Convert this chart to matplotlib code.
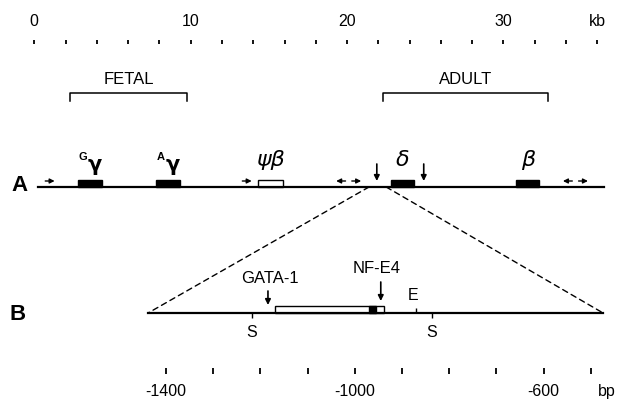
#Mapa del locus de beta-globina
import numpy as np
import matplotlib
matplotlib.use('Agg')
import matplotlib.pyplot as plt
from matplotlib.patches import Rectangle, ConnectionPatch

plt.rcParams['font.family'] = ['Liberation Sans', 'DejaVu Sans']

#Datos (kb) para la parte A
kb_ticks = np.arange(0, 37, 2)
kb_label_pos = [0, 10, 20, 30, 36]
kb_labels = ['0', '10', '20', '30', 'kb']

locus_start = 0.24
locus_end = 36.4
gene_start = [2.78, 7.78, 14.3, 22.8, 30.8]
gene_end = [4.31, 9.32, 15.9, 24.3, 32.3]
gene_filled = [True, True, False, True, True]
gene_names = ['Gγ', 'Aγ', 'ψβ', 'δ', 'β']

hs_pos = [1.0, 13.6, 19.6, 20.6, 34.1, 35.1]
hs_dir = [1, 1, -1, 1, -1, 1]
down_arrows = [21.9, 24.9]

brackets = ['FETAL', 'ADULT']
bracket_start = [2.29, 22.29]
bracket_end = [9.76, 32.84]

zoom_from = [21.4, 22.5]

#Datos (bp) para la parte B
bp_ticks = np.arange(-1400, -499, 100)
bp_label_pos = [-1400, -1000, -600, -466]
bp_labels = ['-1400', '-1000', '-600', 'bp']

region_start = -1438
region_end = -474
s_sites = [-1218, -837]
e_site = -870
box_start, box_end = -1169, -938
core_start, core_end = -970, -955
gata_pos = -1184
nfe4_pos = -945

fig = plt.figure(figsize=(6.19, 4.02), dpi=100)
axA = fig.add_axes([0, 0, 1, 1])
axA.set_xlim(-2.193, 37.385)
axA.set_ylim(402, 0)
axA.axis('off')
axB = fig.add_axes([0, 0, 1, 1])
axB.set_xlim(-1751.7, -440.3)
axB.set_ylim(402, 0)
axB.axis('off')
axB.patch.set_alpha(0)

#Escala superior
axA.vlines(kb_ticks, 41, 45, color='k', lw=1.3)
for p, lab in zip(kb_label_pos, kb_labels):
    axA.text(p, 21, lab, ha='center', va='center', fontsize=11.5)

#Llaves FETAL / ADULT
for name, s, e in zip(brackets, bracket_start, bracket_end):
    axA.plot([s, s, e, e], [102, 94, 94, 102], color='k', lw=1.1)
    axA.text((s + e) / 2, 79, name, ha='center', va='center', fontsize=12)

#Linea A y genes
axA.plot([locus_start, locus_end], [188, 188], color='k', lw=1.6)
axA.text(-0.95, 186, 'A', ha='center', va='center', fontsize=16, fontweight='bold')
for s, e, f, name in zip(gene_start, gene_end, gene_filled, gene_names):
    axA.add_patch(Rectangle((s, 181), e - s, 7, facecolor='k' if f else 'white',
                            edgecolor='k', lw=1))
    c = (s + e) / 2
    if name.endswith('γ'):
        axA.text(c - 0.45, 157, name[0], ha='center', va='center', fontsize=8,
                 fontweight='bold')
        axA.text(c + 0.3, 165, 'γ', ha='center', va='center', fontsize=15,
                 fontweight='bold', family='DejaVu Sans')
    else:
        axA.text(c, 160, name, ha='center', va='center', fontsize=16,
                 fontstyle='italic', family='DejaVu Sans')

for p, d in zip(hs_pos, hs_dir):
    axA.annotate('', xy=(p + 0.3 * d, 182), xytext=(p - 0.3 * d, 182),
                 arrowprops=dict(arrowstyle='-|>', color='k', lw=1,
                                 mutation_scale=7, shrinkA=0, shrinkB=0))
for p in down_arrows:
    axA.annotate('', xy=(p, 182), xytext=(p, 165),
                 arrowprops=dict(arrowstyle='-|>', color='k', lw=1.2,
                                 mutation_scale=8, shrinkA=0, shrinkB=0))

#Lineas discontinuas
for xa, xb in zip(zoom_from, [region_start, region_end]):
    con = ConnectionPatch(xyA=(xa, 188), coordsA=axA.transData,
                          xyB=(xb, 314), coordsB=axB.transData,
                          linestyle=(0, (4, 3)), lw=1, color='k')
    fig.add_artist(con)

#Linea B
axB.plot([region_start, region_end], [314, 314], color='k', lw=1.6)
axB.text(-1713.6, 315, 'B', ha='center', va='center', fontsize=16, fontweight='bold')
axB.vlines(s_sites, 314, 319, color='k', lw=1)
for p in s_sites:
    axB.text(p, 333, 'S', ha='center', va='center', fontsize=11.5)
axB.vlines([e_site], 309, 314, color='k', lw=1)
axB.text(e_site - 6, 296, 'E', ha='center', va='center', fontsize=11.5)
axB.add_patch(Rectangle((box_start, 307), box_end - box_start, 7,
                        facecolor='white', edgecolor='k', lw=1))
axB.add_patch(Rectangle((core_start, 307), core_end - core_start, 7,
                        facecolor='k', edgecolor='k', lw=1))
axB.annotate('', xy=(gata_pos, 306), xytext=(gata_pos, 292),
             arrowprops=dict(arrowstyle='-|>', color='k', lw=1.2,
                             mutation_scale=8, shrinkA=0, shrinkB=0))
axB.annotate('', xy=(nfe4_pos, 302), xytext=(nfe4_pos, 283),
             arrowprops=dict(arrowstyle='-|>', color='k', lw=1.2,
                             mutation_scale=8, shrinkA=0, shrinkB=0))
axB.text(gata_pos + 4, 279, 'GATA-1', ha='center', va='center', fontsize=12)
axB.text(nfe4_pos - 8, 269, 'NF-E4', ha='center', va='center', fontsize=12)

#Escala inferior
axB.vlines(bp_ticks, 369, 375, color='k', lw=1.3)
for p, lab in zip(bp_label_pos, bp_labels):
    axB.text(p, 392, lab, ha='center', va='center', fontsize=11.5)

fig.savefig('out.png', dpi=100)
